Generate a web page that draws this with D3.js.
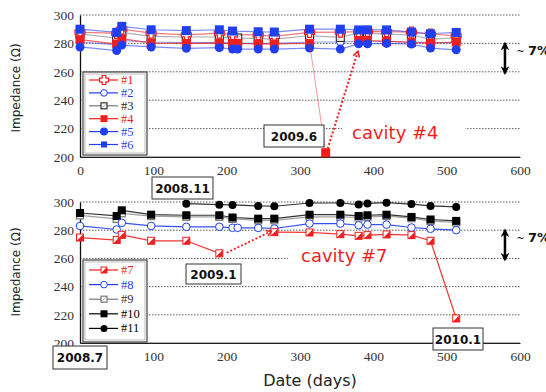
<!DOCTYPE html>
<html>
<head>
<meta charset="utf-8">
<script src="https://cdn.jsdelivr.net/npm/d3@7"></script>
<style>
  html, body { margin: 0; padding: 0; background: #fff; }
  svg { display: block; }
</style>
</head>
<body>
<svg id="chart" width="546" height="392"></svg>
<script>
// measurement days (shared by both panels)
const days = [0, 50, 57, 97, 145, 190, 208, 215, 243, 265, 313, 355, 380, 392, 418, 452, 478, 513];

// upper panel, cavities #1 - #6 (impedance in ohm)
const cav1 = [288, 287, 290, 287.3, 286, 287.3, 286, null, 286, 285, 287.7, 288, 288.3, 288.5, 288.3, 288, 286.6, 285.4];
const cav2 = [281, 279, 282, 281, 280.5, 280.5, 280, 280, 280, 280, 281, 281, 281.5, 281.5, 281.5, 281, 280.5, 280.5];
const cav3 = [286.6, 283.8, 287.7, 285, 284.5, 284.5, 283.8, 283.8, 283.3, 283, 285.4, 284.2, 287.3, 287.3, 286.6, 285.9, 283, 283.8];
const cav4 = [282.6, 279.5, 283.3, 280.2, 280, 280.2, 280, 280, 279.6, 279.6, 280, null, 282, 282, 281.4, 280.7, 280.2, 281];
const cav4Drop = { day: 335, value: 203 };
const cav5 = [277.5, 275, 278.8, 277.5, 276.5, 277, 276, 276, 276, 276, 276.7, 276, 279.7, 279.7, 280, 279.5, 276.7, 275.5];
const cav6 = [290, 287.7, 292, 289.6, 289, 289.6, 288.7, null, 288.2, 288, 290, 290, 289.5, 289.5, 289.5, 288, 286.8, 287.7];

// lower panel, cavities #7 - #11
const cav7 = [274.8, 273, 276.7, 272.5, 272.5, 263.6, null, null, null, 278.6, 278.4, 277.2, 276, 276.5, 277, 276.5, 272.5, 217.4];
const cav8 = [283, 280.5, 285.2, 283, 282.4, 282.4, 281.7, 281.7, 281.6, 281.2, 284.7, 284.7, 283.5, 284, 284, 281.9, 281, 280];
const cav9 = [290.5, 288, 292, 290, 289.5, 289.5, 288, null, 287, 287, 289.5, 289.5, 289, 289.5, 290, 288.5, 286.5, 285.5];
const cav10 = [292.2, 290.1, 294.1, 291, 290.6, 290.6, 289, null, 288.2, 288.2, 291, 291, 290.1, 290.6, 291, 289.4, 287.6, 286.6];
const cav11 = [null, null, null, null, 298.8, 298.1, 297.9, null, 297.2, 297, 299.3, 299.3, 298.2, 299, 299.5, 298.5, 297.2, 296.5];

const xTicks = [0, 100, 200, 300, 400, 500, 600];
const yTicks = [200, 220, 240, 260, 280, 300];

const RED = "#f01e1e", BLUE = "#1f3ff0", BLACK = "#000", GRAY = "#777";

const svg = d3.select("#chart");
const x = d3.scaleLinear().domain([0, 600]).range([80, 520]);
const yTop = d3.scaleLinear().domain([200, 300]).range([157, 15]);
const yBot = d3.scaleLinear().domain([200, 300]).range([343, 202]);

const defs = svg.append("defs");
defs.append("marker").attr("id", "redHead")
  .attr("viewBox", "0 0 10 10").attr("refX", 8).attr("refY", 5)
  .attr("markerWidth", 4).attr("markerHeight", 4).attr("orient", "auto")
  .append("path").attr("d", "M1,1 L8,5 L1,9").attr("fill", "none")
  .attr("stroke", RED).attr("stroke-width", 2);
defs.append("marker").attr("id", "blackHead")
  .attr("viewBox", "0 0 10 10").attr("refX", 8).attr("refY", 5)
  .attr("markerWidth", 3.5).attr("markerHeight", 3.5).attr("orient", "auto-start-reverse")
  .append("path").attr("d", "M0,0 L10,5 L0,10 L3,5 Z").attr("fill", BLACK);

// marker drawing
function drawMarker(g, type, color, s) {
  const h = s / 2;
  if (type === "cross") {
    const a = s * 0.2;
    g.append("path")
      .attr("d", `M${-a},${-h}H${a}V${-a}H${h}V${a}H${a}V${h}H${-a}V${a}H${-h}V${-a}H${-a}Z`)
      .attr("fill", "#fff").attr("stroke", color).attr("stroke-width", 1.2);
  } else if (type === "ocircle") {
    g.append("circle").attr("r", h * 0.95).attr("fill", "#fff").attr("stroke", color).attr("stroke-width", 1);
  } else if (type === "circle") {
    g.append("circle").attr("r", h).attr("fill", color);
  } else if (type === "square") {
    g.append("rect").attr("x", -h).attr("y", -h).attr("width", s).attr("height", s).attr("fill", color);
  } else if (type === "osquare") {
    g.append("rect").attr("x", -h + 0.5).attr("y", -h + 0.5).attr("width", s - 1).attr("height", s - 1)
      .attr("fill", "#fff").attr("stroke", color).attr("stroke-width", 1.2);
    g.append("line").attr("x1", -h + 1.5).attr("y1", h - 1.5).attr("x2", h - 1.5).attr("y2", -h + 1.5)
      .attr("stroke", "#999").attr("stroke-width", 0.8);
  } else if (type === "half") {
    g.append("rect").attr("x", -h + 0.5).attr("y", -h + 0.5).attr("width", s - 1).attr("height", s - 1)
      .attr("fill", "#fff").attr("stroke", color).attr("stroke-width", 1);
    g.append("path").attr("d", `M${-h + 0.5},${h - 0.5}L${h - 0.5},${-h + 0.5}L${h - 0.5},${h - 0.5}Z`).attr("fill", color);
  }
}

function drawPanel(y, series, ticksX) {
  const g = svg.append("g");
  // grid
  g.selectAll(".grid").data(yTicks).join("line")
    .attr("x1", x(0)).attr("x2", x(600))
    .attr("y1", d => y(d)).attr("y2", d => y(d))
    .attr("stroke", "#333").attr("stroke-width", 0.8)
    .attr("stroke-dasharray", d => d === 200 ? null : "1.5,1.5");

  // axes
  g.append("g").attr("transform", `translate(0,${y(200)})`)
    .call(d3.axisBottom(x).tickValues(ticksX).tickSize(0).tickPadding(8))
    .call(a => a.select(".domain").attr("stroke", "#222"))
    .selectAll("text").attr("font-family", "Liberation Serif, serif").attr("font-size", 13.5).attr("fill", "#333");
  g.append("g").attr("transform", `translate(${x(0)},0)`)
    .call(d3.axisLeft(y).tickValues(yTicks).tickSize(0).tickPadding(6))
    .call(a => a.select(".domain").attr("stroke", "#111").attr("stroke-width", 1.3))
    .selectAll("text").attr("font-family", "Liberation Serif, serif").attr("font-size", 13.5).attr("fill", "#333");

  const lines = g.append("g");
  const marks = g.append("g");
  series.forEach(s => {
    let pts = days.map((d, i) => ({ d, v: s.values[i] }));
    if (!s.gaps) pts = pts.filter(p => p.v != null);
    const line = d3.line().defined(p => p.v != null).x(p => x(p.d)).y(p => y(p.v));
    lines.append("path").attr("d", line(pts)).attr("fill", "none")
      .attr("stroke", s.lineColor || s.color).attr("stroke-width", s.lw || 1.2)
      .attr("stroke-opacity", s.lo || 0.75);
    s._pts = pts.filter(p => p.v != null);
  });
  series.forEach(s => {
    s._pts.forEach(p => {
      const m = marks.append("g").attr("transform", `translate(${x(p.d)},${y(p.v)})`);
      drawMarker(m, s.marker, s.color, s.size);
    });
  });
  return g;
}

function legend(series, x0, y0, w, h, y1, step) {
  const g = svg.append("g");
  g.append("rect").attr("x", x0).attr("y", y0).attr("width", w).attr("height", h)
    .attr("fill", "#fff").attr("stroke", "#444").attr("stroke-width", 1.2);
  g.append("rect").attr("x", x0 + 2).attr("y", y0 + 2).attr("width", w - 4).attr("height", h - 4)
    .attr("fill", "none").attr("stroke", "#aaa").attr("stroke-width", 0.8);
  series.forEach((s, i) => {
    const yy = y1 + i * step;
    g.append("line").attr("x1", x0 + 6).attr("x2", x0 + 35).attr("y1", yy).attr("y2", yy)
      .attr("stroke", s.lineColor || s.color).attr("stroke-width", 1.2);
    drawMarker(g.append("g").attr("transform", `translate(${x0 + 21},${yy})`), s.marker, s.color, s.size - 1);
    g.append("text").attr("x", x0 + 38).attr("y", yy + 4).text(s.name)
      .attr("font-family", "Liberation Serif, serif").attr("font-size", 12.5)
      .attr("fill", s.textColor || s.color);
  });
}

function box(label, x0, y0, w, h) {
  svg.append("rect").attr("x", x0).attr("y", y0).attr("width", w).attr("height", h)
    .attr("fill", "#fff").attr("stroke", "#333").attr("stroke-width", 1);
  svg.append("text").attr("x", x0 + w / 2).attr("y", y0 + h / 2 + 4.5).attr("text-anchor", "middle")
    .attr("font-family", "DejaVu Sans, sans-serif").attr("font-weight", "bold").attr("font-size", 12)
    .attr("fill", "#111").text(label);
}

function sevenPct(y) {
  svg.append("line").attr("x1", x(579.5)).attr("x2", x(579.5))
    .attr("y1", y(280)).attr("y2", y(259))
    .attr("stroke", BLACK).attr("stroke-width", 2.5)
    .attr("marker-start", "url(#blackHead)").attr("marker-end", "url(#blackHead)");
  const t = svg.append("text").attr("x", x(595)).attr("y", y(271.5))
    .attr("font-family", "DejaVu Sans, sans-serif").attr("font-weight", "bold").attr("fill", "#111");
  t.append("tspan").attr("font-size", 10).attr("font-weight", "normal").text("~ ");
  t.append("tspan").attr("font-size", 13).text("7%");
}

function cavityLabel(text, tx, ty, bx, bw) {
  svg.append("rect").attr("x", bx).attr("y", ty - 18).attr("width", bw).attr("height", 24).attr("fill", "#fff");
  svg.append("text").attr("x", tx).attr("y", ty).text(text)
    .attr("font-family", "DejaVu Sans, sans-serif").attr("font-size", 18).attr("fill", RED);
}

const topSeries = [
  { name: "#2", values: cav2, color: BLUE, marker: "ocircle", size: 8, lo: 0.5 },
  { name: "#3", values: cav3, color: "#333", lineColor: GRAY, marker: "osquare", size: 9, lo: 0.6 },
  { name: "#1", values: cav1, color: RED, marker: "cross", size: 10, lo: 0.6 },
  { name: "#4", values: cav4, color: RED, marker: "square", size: 9, gaps: true, lo: 0.7 },
  { name: "#5", values: cav5, color: BLUE, marker: "circle", size: 9, lo: 0.6 },
  { name: "#6", values: cav6, color: BLUE, marker: "square", size: 9, lo: 0.6 }
];
const botSeries = [
  { name: "#9", values: cav9, color: GRAY, marker: "osquare", size: 8, lo: 0.7 },
  { name: "#11", values: cav11, color: BLACK, marker: "circle", size: 8, lo: 0.8 },
  { name: "#10", values: cav10, color: BLACK, marker: "square", size: 8, lo: 0.8 },
  { name: "#8", values: cav8, color: BLUE, marker: "ocircle", size: 8, lo: 0.9 },
  { name: "#7", values: cav7, color: RED, marker: "half", size: 8, gaps: true, lo: 0.9 }
];

drawPanel(yTop, topSeries, xTicks);
// the "0" of the lower axis sits under the 2008.7 box in the original
drawPanel(yBot, botSeries, xTicks.filter(t => t > 0));

cavityLabel("cavity #4", 352, 139, 342, 123);
cavityLabel("cavity #7", 301, 262, 288, 125);

// #4 drop and recovery
const i313 = days.indexOf(313);
svg.append("line")
  .attr("x1", x(313)).attr("y1", yTop(cav4[i313]))
  .attr("x2", x(cav4Drop.day)).attr("y2", yTop(cav4Drop.value))
  .attr("stroke", RED).attr("stroke-opacity", 0.45).attr("stroke-width", 1);
svg.append("line")
  .attr("x1", x(cav4Drop.day) + 2).attr("y1", yTop(cav4Drop.value) - 4)
  .attr("x2", x(379)).attr("y2", yTop(274.5))
  .attr("stroke", RED).attr("stroke-width", 2).attr("stroke-dasharray", "2,2")
  .attr("marker-end", "url(#redHead)");
drawMarker(svg.append("g").attr("transform", `translate(${x(cav4Drop.day)},${yTop(cav4Drop.value)})`), "square", RED, 9);

// #7 recovery arrow
svg.append("line")
  .attr("x1", x(200)).attr("y1", yBot(264))
  .attr("x2", x(261)).attr("y2", yBot(279.3))
  .attr("stroke", RED).attr("stroke-width", 1.8).attr("stroke-dasharray", "2,2")
  .attr("marker-end", "url(#redHead)");

legend([
  { name: "#1", color: RED, marker: "cross", size: 10 },
  { name: "#2", color: BLUE, marker: "ocircle", size: 8 },
  { name: "#3", color: "#333", lineColor: GRAY, textColor: "#222", marker: "osquare", size: 8 },
  { name: "#4", color: RED, marker: "square", size: 8 },
  { name: "#5", color: BLUE, marker: "circle", size: 9 },
  { name: "#6", color: BLUE, marker: "square", size: 7 }
], 83, 72, 64, 83, 80, 12.9);
legend([
  { name: "#7", color: RED, marker: "half", size: 8 },
  { name: "#8", color: BLUE, marker: "ocircle", size: 8 },
  { name: "#9", color: GRAY, textColor: "#333", marker: "osquare", size: 8 },
  { name: "#10", color: BLACK, marker: "square", size: 8 },
  { name: "#11", color: BLACK, marker: "circle", size: 8 }
], 83, 260, 64, 82, 270, 14.6);

sevenPct(yTop);
sevenPct(yBot);

box("2009.6", 264, 125, 60, 22);
box("2008.11", 152, 177, 61, 22);
box("2009.1", 186, 264, 55, 20);
box("2008.7", 53, 346, 54, 23);
box("2010.1", 433, 328, 50, 22);

// axis titles
[88, 272].forEach(cy => {
  svg.append("text").attr("transform", `translate(20,${cy}) rotate(-90)`)
    .attr("text-anchor", "middle").attr("font-family", "DejaVu Sans, sans-serif")
    .attr("font-size", 12).attr("fill", "#222").text("Impedance (Ω)");
});
svg.append("text").attr("x", 310).attr("y", 386).attr("text-anchor", "middle")
  .attr("font-family", "DejaVu Sans, sans-serif").attr("font-size", 16).attr("fill", "#222")
  .text("Date (days)");
</script>
</body>
</html>
